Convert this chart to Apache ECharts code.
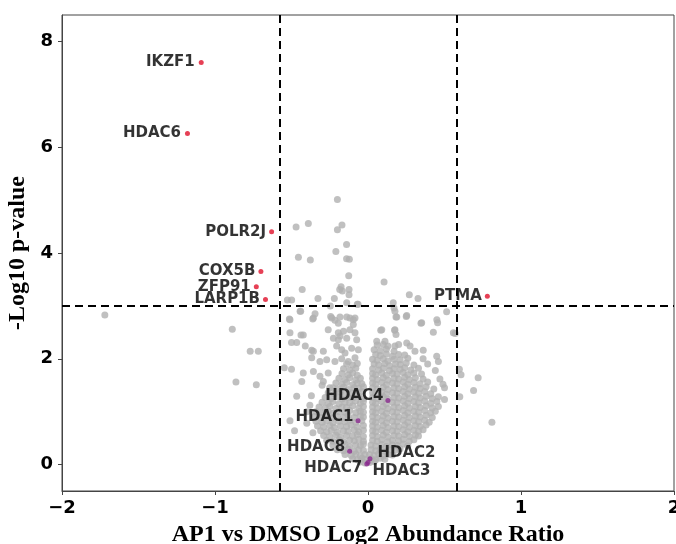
<!DOCTYPE html>
<html>
<head>
<meta charset="utf-8">
<script src="https://cdn.jsdelivr.net/npm/echarts@6/dist/echarts.min.js"></script>
<style>html,body{margin:0;padding:0;background:#fff}#c{width:676px;height:544px}</style>
</head>
<body>
<div id="c"></div>
<script>
// ---- data ----
const xTicks = [-2, -1, 0, 1, 2];
const yTicks = [0, 2, 4, 6, 8];
const fcCut = 0.585;   // log2(1.5)
const pCut = 3;

const redNames = ['IKZF1', 'HDAC6', 'POLR2J', 'COX5B', 'ZFP91', 'LARP1B', 'PTMA'];
const redX = [-1.09, -1.18, -0.63, -0.70, -0.73, -0.67, 0.78];
const redY = [7.60, 6.26, 4.40, 3.65, 3.36, 3.12, 3.18];

const hdacNames = ['HDAC4', 'HDAC1', 'HDAC8', 'HDAC2', 'HDAC7', 'HDAC3'];
const hdacX = [0.13, -0.065, -0.12, 0.013, -0.008, 0.0];
const hdacY = [1.21, 0.83, 0.25, 0.11, 0.01, 0.04];

const sparsePoints = [
[-0.2,5.01],[-0.47,4.49],[-0.39,4.56],[-0.17,4.53],[-0.2,4.44],[-0.14,4.16],[-0.21,4.03],[-0.455,3.92],[-0.377,3.87],[-0.14,3.89],[-0.122,3.88],[-0.126,3.57],[-0.43,3.31],[-0.176,3.36],[-0.185,3.31],[-0.168,3.28],[-0.124,3.31],[-0.124,3.21],[-0.22,3.14],[-0.327,3.14],[-0.139,3.06],[-0.527,3.11],[-0.499,3.11],[-0.07,3.03],[-0.246,3.0],
[0.105,3.45],[0.27,3.21],[0.327,3.14],[0.165,3.06],[-0.065,3.03],[0.514,2.89],[0.45,2.74],[0.455,2.68],[0.346,2.67],[0.427,2.5],[0.57,2.48],[0.25,2.8],[0.183,2.79],[0.17,2.96],[0.083,2.54],[0.174,2.54],
[0.597,1.8],[0.608,1.7],[0.72,1.64],[0.69,1.4],[0.6,1.28],[0.81,0.8],[0.5,1.23],[0.5,1.45],[0.49,1.52],
[-1.72,2.83],[-0.887,2.56],[-0.77,2.14],[-0.717,2.14],[-0.863,1.56],[-0.73,1.51],
[-0.547,1.83],[-0.5,1.8],[-0.48,0.64],[-0.51,0.83],[-0.466,1.29],
[-0.514,2.75],[-0.51,2.49],[-0.438,2.45],[-0.423,2.45],[-0.5,2.31],[-0.466,2.31],[-0.41,2.24],[-0.368,2.16],[-0.357,2.77],[-0.44,2.9],
[-0.237,2.77],[-0.216,2.73],[-0.194,2.67],[-0.118,2.77],[-0.096,2.74],[-0.096,2.65],[-0.26,2.55],[-0.194,2.49],[-0.16,2.52],[-0.118,2.55],[-0.085,2.49],
[-0.226,2.39],[-0.194,2.36],[-0.139,2.39],[-0.074,2.36],[-0.357,2.14],[-0.292,2.14],[-0.205,2.24],[-0.172,2.17],[-0.15,2.11],[-0.107,2.2],[-0.063,2.17],
[-0.368,2.02],[-0.314,1.95],[-0.27,1.98],[-0.216,1.95],[-0.172,2.0],[-0.129,1.95],[-0.085,2.02],[-0.423,1.73],[-0.357,1.76],[-0.314,1.67],[-0.26,1.73],[-0.292,1.57],[-0.433,1.57],
[-0.244,2.8],[-0.183,2.79],[-0.139,2.79],[-0.085,2.77],[-0.346,2.85],[-0.361,2.75],[-0.444,2.9],[-0.51,2.74],[-0.183,2.43],
[0.176,2.9],[0.188,2.79],[0.253,2.82],[0.351,2.68],[0.558,2.49],[0.09,2.55],[0.176,2.55],[0.183,2.46],[0.057,2.33],[0.111,2.33],[0.1,2.27],
[0.176,2.24],[0.253,2.3],[0.275,2.24],[0.307,2.14],[0.361,2.16],[0.449,2.05],[0.46,1.95],[-0.4,1.0],[-0.38,1.12],[-0.4,0.78],
[-0.37,1.3],[-0.36,0.6],[0.47,1.62],[0.44,1.78],[0.39,1.9],[0.36,2.0],[-0.25,1.45],[-0.3,1.5]
];

const leftCloud = [
[-0.05,0.05],[-0.02,0.03],
[-0.1,0.11],[-0.07,0.09],[-0.04,0.12],[-0.02,0.1],
[-0.15,0.19],[-0.11,0.17],[-0.08,0.2],[-0.05,0.16],[-0.02,0.19],
[-0.2,0.28],[-0.16,0.26],[-0.13,0.29],[-0.09,0.25],[-0.06,0.28],[-0.03,0.27],
[-0.23,0.37],[-0.19,0.35],[-0.15,0.38],[-0.12,0.34],[-0.08,0.37],[-0.05,0.36],[-0.03,0.39],
[-0.27,0.46],[-0.23,0.44],[-0.19,0.47],[-0.16,0.43],[-0.12,0.46],[-0.09,0.45],[-0.06,0.48],[-0.03,0.44],
[-0.29,0.55],[-0.25,0.53],[-0.21,0.56],[-0.18,0.52],[-0.14,0.55],[-0.1,0.54],[-0.07,0.57],[-0.03,0.53],
[-0.31,0.64],[-0.27,0.62],[-0.24,0.65],[-0.2,0.61],[-0.16,0.64],[-0.13,0.63],[-0.09,0.66],[-0.06,0.62],[-0.03,0.65],
[-0.33,0.73],[-0.29,0.71],[-0.25,0.74],[-0.22,0.7],[-0.18,0.73],[-0.14,0.72],[-0.11,0.75],[-0.07,0.71],[-0.03,0.74],
[-0.34,0.82],[-0.3,0.8],[-0.27,0.83],[-0.23,0.79],[-0.19,0.82],[-0.15,0.81],[-0.12,0.84],[-0.08,0.8],[-0.04,0.83],
[-0.35,0.91],[-0.31,0.89],[-0.27,0.92],[-0.24,0.88],[-0.2,0.91],[-0.16,0.9],[-0.13,0.93],[-0.09,0.89],[-0.05,0.92],[-0.03,0.9],
[-0.34,1.0],[-0.3,0.98],[-0.26,1.01],[-0.23,0.97],[-0.19,1.0],[-0.15,0.99],[-0.12,1.02],[-0.08,0.98],[-0.05,1.01],[-0.03,0.99],
[-0.32,1.09],[-0.28,1.07],[-0.25,1.1],[-0.21,1.06],[-0.17,1.09],[-0.14,1.08],[-0.1,1.11],[-0.06,1.07],[-0.03,1.1],
[-0.3,1.18],[-0.26,1.16],[-0.23,1.19],[-0.19,1.15],[-0.15,1.18],[-0.12,1.17],[-0.08,1.2],[-0.05,1.16],[-0.03,1.19],
[-0.28,1.27],[-0.24,1.25],[-0.2,1.28],[-0.17,1.24],[-0.13,1.27],[-0.1,1.26],[-0.06,1.29],[-0.03,1.25],
[-0.26,1.36],[-0.22,1.34],[-0.18,1.37],[-0.15,1.33],[-0.11,1.36],[-0.08,1.35],[-0.04,1.38],
[-0.23,1.45],[-0.2,1.43],[-0.16,1.46],[-0.13,1.42],[-0.09,1.45],[-0.06,1.44],[-0.03,1.47],
[-0.21,1.54],[-0.17,1.52],[-0.14,1.55],[-0.1,1.51],[-0.07,1.54],[-0.04,1.53],
[-0.19,1.63],[-0.15,1.61],[-0.12,1.64],[-0.08,1.6],[-0.05,1.63],
[-0.17,1.72],[-0.13,1.7],[-0.1,1.73],[-0.07,1.69],
[-0.16,1.81],[-0.12,1.79],[-0.08,1.82],
[-0.14,1.9],[-0.1,1.88],[-0.07,1.91]
];

const rightCloud = [
[0.01,0.04],[0.04,0.06],
[0.02,0.11],[0.05,0.09],[0.08,0.12],[0.11,0.1],
[0.01,0.19],[0.04,0.17],[0.07,0.2],[0.1,0.16],[0.13,0.19],[0.16,0.18],
[0.02,0.28],[0.05,0.26],[0.08,0.29],[0.11,0.25],[0.15,0.28],[0.18,0.27],[0.21,0.3],
[0.02,0.37],[0.05,0.35],[0.09,0.38],[0.12,0.34],[0.16,0.37],[0.19,0.36],[0.23,0.39],[0.26,0.35],
[0.03,0.46],[0.06,0.44],[0.09,0.47],[0.13,0.43],[0.16,0.46],[0.2,0.45],[0.23,0.48],[0.27,0.44],[0.3,0.47],
[0.03,0.55],[0.06,0.53],[0.1,0.56],[0.13,0.52],[0.17,0.55],[0.2,0.54],[0.24,0.57],[0.27,0.53],[0.31,0.56],[0.33,0.54],
[0.03,0.64],[0.05,0.62],[0.09,0.65],[0.12,0.61],[0.16,0.64],[0.19,0.63],[0.23,0.66],[0.26,0.62],[0.3,0.65],[0.33,0.63],[0.36,0.66],
[0.03,0.73],[0.06,0.71],[0.1,0.74],[0.13,0.7],[0.17,0.73],[0.2,0.72],[0.24,0.75],[0.27,0.71],[0.31,0.74],[0.34,0.72],[0.38,0.75],
[0.03,0.82],[0.05,0.8],[0.09,0.83],[0.12,0.79],[0.16,0.82],[0.19,0.81],[0.23,0.84],[0.26,0.8],[0.3,0.83],[0.33,0.81],[0.37,0.84],[0.4,0.8],
[0.03,0.91],[0.06,0.89],[0.1,0.92],[0.13,0.88],[0.17,0.91],[0.2,0.9],[0.24,0.93],[0.27,0.89],[0.31,0.92],[0.34,0.9],[0.38,0.93],[0.42,0.89],
[0.03,1.0],[0.05,0.98],[0.09,1.01],[0.12,0.97],[0.16,1.0],[0.19,0.99],[0.23,1.02],[0.26,0.98],[0.3,1.01],[0.33,0.99],[0.37,1.02],[0.41,0.98],[0.44,1.01],
[0.03,1.09],[0.06,1.07],[0.1,1.1],[0.13,1.06],[0.17,1.09],[0.2,1.08],[0.24,1.11],[0.27,1.07],[0.31,1.1],[0.34,1.08],[0.38,1.11],[0.42,1.07],[0.46,1.1],
[0.03,1.18],[0.05,1.16],[0.09,1.19],[0.12,1.15],[0.16,1.18],[0.19,1.17],[0.23,1.2],[0.26,1.16],[0.3,1.19],[0.33,1.17],[0.37,1.2],[0.41,1.16],[0.45,1.19],
[0.03,1.27],[0.06,1.25],[0.1,1.28],[0.13,1.24],[0.17,1.27],[0.2,1.26],[0.24,1.29],[0.27,1.25],[0.31,1.28],[0.34,1.26],[0.38,1.29],[0.42,1.25],[0.46,1.28],
[0.03,1.36],[0.05,1.34],[0.09,1.37],[0.12,1.33],[0.16,1.36],[0.19,1.35],[0.23,1.38],[0.26,1.34],[0.3,1.37],[0.33,1.35],[0.37,1.38],[0.41,1.34],
[0.03,1.45],[0.06,1.43],[0.1,1.46],[0.13,1.42],[0.17,1.45],[0.2,1.44],[0.24,1.47],[0.27,1.43],[0.31,1.46],[0.34,1.44],[0.38,1.47],[0.43,1.43],
[0.03,1.54],[0.05,1.52],[0.09,1.55],[0.12,1.51],[0.16,1.54],[0.19,1.53],[0.23,1.56],[0.26,1.52],[0.3,1.55],[0.34,1.53],[0.39,1.56],
[0.03,1.63],[0.06,1.61],[0.1,1.64],[0.13,1.6],[0.17,1.63],[0.2,1.62],[0.24,1.65],[0.27,1.61],[0.31,1.64],[0.36,1.62],
[0.03,1.72],[0.05,1.7],[0.09,1.73],[0.12,1.69],[0.16,1.72],[0.19,1.71],[0.23,1.74],[0.26,1.7],[0.3,1.73],[0.35,1.71],
[0.03,1.81],[0.07,1.79],[0.1,1.82],[0.14,1.78],[0.17,1.81],[0.21,1.8],[0.24,1.83],[0.28,1.79],[0.33,1.82],
[0.04,1.9],[0.07,1.88],[0.11,1.91],[0.14,1.87],[0.18,1.9],[0.21,1.89],[0.25,1.92],[0.3,1.88],
[0.03,1.99],[0.06,1.97],[0.1,2.0],[0.13,1.96],[0.17,1.99],[0.21,1.98],[0.26,2.01],
[0.05,2.08],[0.08,2.06],[0.12,2.09],[0.16,2.05],[0.2,2.08],[0.24,2.07],
[0.04,2.17],[0.08,2.15],[0.12,2.18],[0.17,2.14],
[0.06,2.26],[0.13,2.24],[0.2,2.27]
];

// ---- chart ----
const labelFont = { fontFamily: 'DejaVu Sans', fontWeight: 'bold', fontSize: 15, color: '#000' };
const minusFmt = v => (v < 0 ? '\u2212' + Math.abs(v) : String(v));

const labelCfg = {
  IKZF1: { position: 'left', distance: 4 },
  HDAC6: { position: 'left', distance: 4 },
  POLR2J: { position: 'left', distance: 3 },
  COX5B: { position: 'left', distance: 3 },
  ZFP91: { position: 'left', distance: 3 },
  LARP1B: { position: 'left', distance: 3 },
  PTMA: { position: 'left', distance: 3 },
  HDAC4: { position: 'left', distance: 2, offset: [0, -4] },
  HDAC1: { position: 'left', distance: 2, offset: [0, -4] },
  HDAC8: { position: 'left', distance: 2, offset: [0, -4] },
  HDAC2: { position: 'right', distance: 5, offset: [0, -6] },
  HDAC7: { position: 'left', distance: 2, offset: [0, 4] },
  HDAC3: { position: 'right', distance: 2, offset: [0, 9] }
};

function labeled(names, xs, ys) {
  return names.map((n, i) => ({
    name: n,
    value: [xs[i], ys[i]],
    label: Object.assign({ show: true, formatter: n }, labelFont, labelCfg[n])
  }));
}

const grey = '#b0b0b0';
const chart = echarts.init(document.getElementById('c'), null, { renderer: 'canvas' });
chart.setOption({
  animation: false,
  backgroundColor: '#fff',
  grid: { left: 62, right: 2, top: 15, bottom: 53, show: true, borderColor: '#444', borderWidth: 1,
          containLabel: false, outerBoundsMode: 'none' },
  xAxis: {
    type: 'value', min: -2, max: 2, interval: 1,
    name: 'AP1 vs DMSO Log2 Abundance Ratio', nameLocation: 'middle', nameGap: 32,
    nameTextStyle: { fontFamily: 'Liberation Serif', fontWeight: 'bold', fontSize: 24, color: '#000' },
    axisLine: { onZero: false, lineStyle: { color: '#444', width: 1 } },
    axisTick: { show: true, length: 4, lineStyle: { color: '#444' } },
    axisLabel: { formatter: minusFmt, fontFamily: 'DejaVu Sans', fontWeight: 'bold', fontSize: 18, color: '#000', margin: 8, showMaxLabel: true },
    splitLine: { show: false }
  },
  yAxis: {
    type: 'value', min: -0.5, max: 8.5,
    name: '-Log10 p-value', nameLocation: 'middle', nameGap: 26, nameRotate: 90,
    nameTextStyle: { fontFamily: 'Liberation Serif', fontWeight: 'bold', fontSize: 24, color: '#000' },
    axisLine: { show: true, onZero: false, lineStyle: { color: '#444', width: 1 } },
    axisTick: { show: true, length: 4, customValues: yTicks, lineStyle: { color: '#444' } },
    axisLabel: { customValues: yTicks, formatter: minusFmt, fontFamily: 'DejaVu Sans', fontWeight: 'bold', fontSize: 18, color: '#000', margin: 9 },
    splitLine: { show: false }
  },
  series: [
    {
      type: 'scatter', symbolSize: 7, silent: true,
      itemStyle: { color: grey },
      data: sparsePoints.concat(leftCloud, rightCloud),
      z: 2
    },
    {
      type: 'scatter', symbolSize: 5, silent: true,
      itemStyle: { color: '#e0102a' },
      data: labeled(redNames, redX, redY),
      z: 4
    },
    {
      type: 'scatter', symbolSize: 5, silent: true,
      itemStyle: { color: '#8a2b8e' },
      data: labeled(hdacNames, hdacX, hdacY),
      z: 4
    },
    {
      type: 'scatter', data: [], silent: true, z: 3,
      markLine: {
        silent: true, symbol: 'none', animation: false,
        label: { show: false },
        lineStyle: { color: '#000', width: 2, type: [8, 5] },
        data: [{ xAxis: -fcCut }, { xAxis: fcCut }, { yAxis: pCut }]
      }
    }
  ]
});
</script>
</body>
</html>
